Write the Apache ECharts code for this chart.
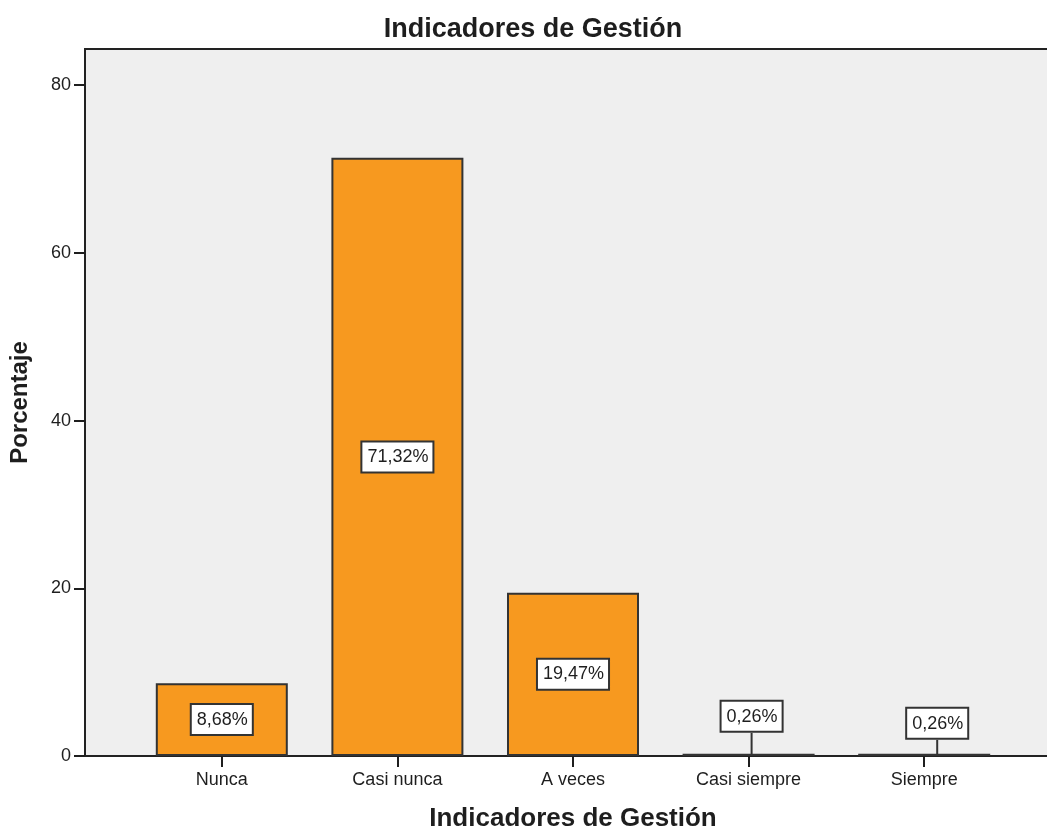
<!DOCTYPE html>
<html>
<head>
<meta charset="utf-8">
<script src="https://cdn.jsdelivr.net/npm/echarts@6/dist/echarts.min.js"></script>
<style>
  html, body { margin: 0; padding: 0; background: #fff; }
  #chart { width: 1047px; height: 833px; }
</style>
</head>
<body>
<div id="chart"></div>
<script>
const categories = ['Nunca', 'Casi nunca', 'A veces', 'Casi siempre', 'Siempre'];
const percentages = [8.68, 71.32, 19.47, 0.26, 0.26];
const yTicks = [0, 20, 40, 60, 80];

const font = 'Liberation Sans, Arial, sans-serif';
const ink = '#1e1e1e';

const chart = echarts.init(document.getElementById('chart'));

// etiqueta con caja blanca
const boxLabel = {
  show: true,
  position: 'inside',
  formatter: p => p.value.toFixed(2).replace('.', ',') + '%',
  backgroundColor: '#fff',
  borderColor: '#333',
  borderWidth: 2,
  padding: [6, 4, 5, 5],
  color: ink,
  fontFamily: font,
  fontSize: 18,
};

chart.setOption({
  animation: false,
  backgroundColor: '#fff',
  title: {
    text: 'Indicadores de Gestión',
    left: 528, top: 11, textAlign: 'center',
    textStyle: { fontFamily: font, fontSize: 27, fontWeight: 'bold', color: ink },
  },
  grid: [
    // marco de fondo
    { left: 85, right: -2, top: 49, bottom: 77, show: true, outerBoundsMode: 'none',
      backgroundColor: '#EFEFEF', borderColor: '#222', borderWidth: 2 },
    // barras
    { left: 134, right: 35, top: 49, bottom: 77, outerBoundsMode: 'none' },
  ],
  xAxis: [
    { gridIndex: 0, type: 'value', min: 0, max: 1, show: false },
    {
      gridIndex: 1, type: 'category', data: categories,
      axisLine: { show: false },
      axisTick: { show: true, alignWithLabel: true, length: 11, lineStyle: { color: ink, width: 2 } },
      axisLabel: { color: ink, fontFamily: font, fontSize: 18, margin: 15 },
      name: 'Indicadores de Gestión', nameLocation: 'middle', nameGap: 50,
      nameTextStyle: { fontFamily: font, fontSize: 26, fontWeight: 'bold', color: ink },
    },
  ],
  yAxis: [
    {
      gridIndex: 0, type: 'value', min: 0, max: 84.3,
      axisLine: { show: false },
      axisTick: { show: true, length: 11, customValues: yTicks, lineStyle: { color: ink, width: 2 } },
      axisLabel: { color: ink, fontFamily: font, fontSize: 18, margin: 14, customValues: yTicks },
      splitLine: { show: false },
      name: 'Porcentaje', nameLocation: 'middle', nameGap: 53, nameRotate: 90,
      nameTextStyle: { fontFamily: font, fontSize: 24, fontWeight: 'bold', color: ink },
    },
    { gridIndex: 1, type: 'value', min: 0, max: 84.3, show: false },
  ],
  series: [{
    type: 'bar',
    xAxisIndex: 1, yAxisIndex: 1,
    barWidth: 132,
    itemStyle: { color: '#F7991F', borderColor: '#333', borderWidth: 2 },
    data: percentages.map((v, i) => {
      if (i < 3) return { value: v, label: boxLabel };
      return {
        value: v,
        label: Object.assign({}, boxLabel, { position: 'top', distance: 0 }),
        labelLine: { show: true, lineStyle: { color: '#333', width: 2 } },
      };
    }),
    labelLayout: p => {
      if (p.dataIndex === 3) return { dx: 3, dy: -23 };
      if (p.dataIndex === 4) return { dx: 13, dy: -16 };
      return {};
    },
  }],
});
</script>
</body>
</html>
